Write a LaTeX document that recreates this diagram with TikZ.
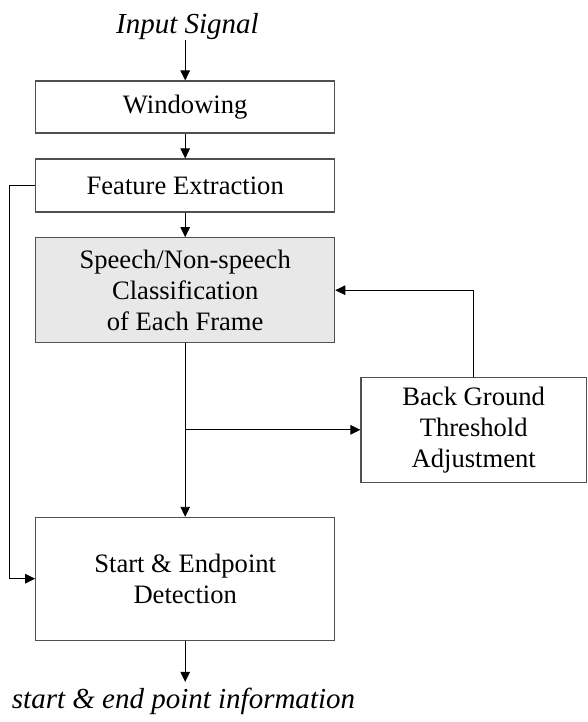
\documentclass[tikz,border=0pt]{standalone}
\usepackage{fontspec}
\setmainfont{Liberation Serif}
\usetikzlibrary{arrows.meta,calc}

\definecolor{boxline}{HTML}{505050}
\definecolor{boxfill}{HTML}{E8E8E8}

\tikzset{
  stage/.style={draw=boxline, line width=1.1pt, align=center, inner sep=0pt,
    font=\fontsize{26.6}{31.2}\selectfont},
  label/.style={inner sep=0pt, font=\fontsize{29}{34}\selectfont\itshape},
  arr/.style={draw=black, line width=0.9pt, -{Triangle[length=10pt,width=9.5pt]}},
}

\begin{document}
\begin{tikzpicture}[x=1pt, y=-1pt]
  \useasboundingbox (0,0) rectangle (588,722);

  % processing stages
  \node[stage, minimum width=299pt, minimum height=52pt] (win) at (185.2,107) {Windowing};
  \node[stage, minimum width=299pt, minimum height=53pt] (feat) at (185.2,185.5) {Feature Extraction};
  \node[stage, fill=boxfill, minimum width=299pt, minimum height=105pt] (cls) at (185.2,290.2)
    {Speech/Non-speech\\Classification\\of Each Frame};
  \node[stage, minimum width=225.5pt, minimum height=105pt] (back) at (473.7,429.8)
    {Back Ground\\Threshold\\Adjustment};
  \node[stage, minimum width=299pt, minimum height=122.7pt] (start) at (185.2,578.7)
    {Start \& Endpoint\\Detection};

  % input and output labels
  \node[label, anchor=base] (in) at (187.5,33.5) {Input Signal};
  \node[label, anchor=base] (out) at (183.5,708) {start \& end point information};

  % main flow
  \draw[arr] (win.north |- in.south) -- (win.north);
  \draw[arr] (win.south) -- (feat.north);
  \draw[arr] (feat.south) -- (cls.north);
  \draw[arr] (cls.south) -- (start.north);
  \draw[arr, shorten >=5.5pt] (start.south) -- (start.south |- out.north);

  % threshold adjustment loop
  \coordinate (br) at (cls.south |- back.west);
  \draw[arr] (br) -- (back.west);
  \draw[arr] (back.north) |- (cls.east);

  % feature bypass to detection
  \draw[arr] (feat.west) -- ++(-25.7,0) |- (start.west);
\end{tikzpicture}
\end{document}
